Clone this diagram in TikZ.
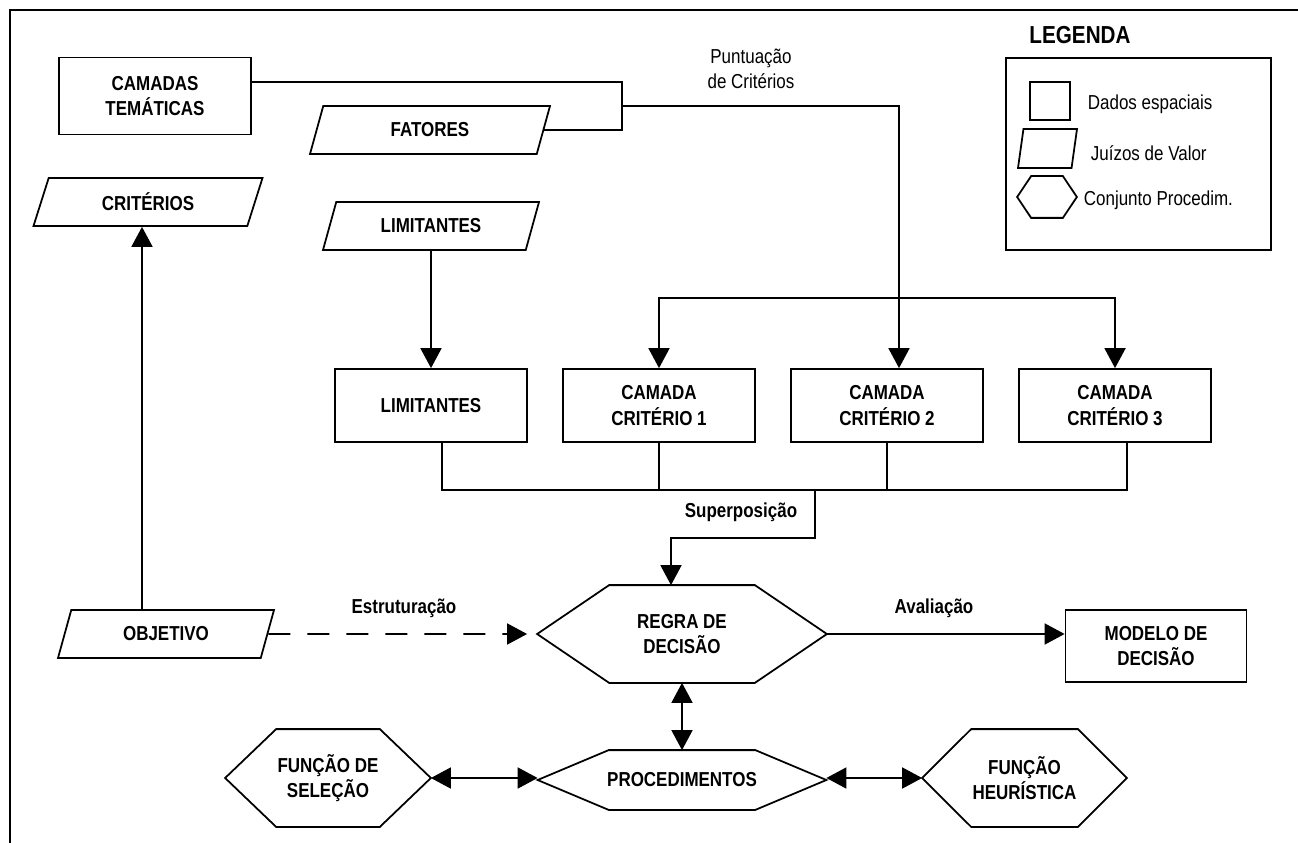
\documentclass[tikz,border=0pt]{standalone}
\usepackage{fontspec}
\setmainfont{Liberation Sans}[FakeStretch=0.84]
\usetikzlibrary{shapes, arrows.meta}
\tikzstyle{block} =
        [
                rectangle,
                draw,
                minimum width = 3.84cm,
                minimum height = 1.46cm,
                align = center,
                font = \fontsize{11.5}{14.5}\selectfont\bfseries
        ]
\tikzstyle{juizo} =
        [
                trapezium,
                draw,
                trapezium left angle = 63,
                trapezium right angle = 117,
                trapezium stretches body = true,
                minimum width = 4.32cm,
                minimum height = 0.96cm,
                font = \fontsize{11.5}{14.5}\selectfont\bfseries
        ]
\tikzstyle{procedim} =
        [
                rectangle,
                minimum height = 1.92cm,
                align = center,
                font = \fontsize{11.5}{14.5}\selectfont\bfseries
        ]
\tikzstyle{rotulo} =
        [
                inner sep = 0pt,
                font = \fontsize{11.5}{14.5}\selectfont\bfseries
        ]
\tikzstyle{nota} =
        [
                inner sep = 0pt,
                align = center,
                font = \fontsize{11.5}{14}\selectfont
        ]
\tikzstyle{line} =
        [
                draw,
                -{Triangle[length = 4mm, width = 4.2mm]}
        ]
\tikzstyle{dline} =
        [
                draw,
                {Triangle[length = 4mm, width = 4.2mm]}-{Triangle[length = 4mm, width = 4.2mm]}
        ]

\begin{document}
\begin{tikzpicture}[x = 0.2mm, y = -0.2mm, line width = 1pt]
        \useasboundingbox (0,0) rectangle (1298,843);
        \draw [line width = 1.2pt] (10,843) -- (10,10) -- (1298,10);

        \node [block, minimum height = 1.54cm] (tematicas) at (155,96) {CAMADAS\\TEMÁTICAS};
        \node [juizo, minimum width = 4.8cm] (fatores) at (430,130) {FATORES};
        \node [juizo, minimum width = 4.58cm] (criterios) at (148,202) {CRITÉRIOS};
        \node [juizo] (limitpar) at (431,226) {LIMITANTES};
        \node [nota] (puntuacao) at (751,69) {Puntuação\\de Critérios};
        \coordinate (junta) at (622,106);
        \coordinate (reparte) at (899,298);

        \node [block, below of = limitpar, node distance = 3.59cm] (limitantes) {LIMITANTES};
        \node [block, right of = limitantes, node distance = 4.56cm] (cc1) {CAMADA\\CRITÉRIO 1};
        \node [block, right of = cc1, node distance = 4.56cm] (cc2) {CAMADA\\CRITÉRIO 2};
        \node [block, right of = cc2, node distance = 4.56cm] (cc3) {CAMADA\\CRITÉRIO 3};
        \coordinate (soma) at (815,490);
        \node [rotulo] (superposicao) at (741,512) {Superposição};

        \node [juizo] (objetivo) at (166,634) {OBJETIVO};
        \node [procedim, minimum width = 5.76cm] (regra) at (682,634) {REGRA DE\\DECISÃO};
        \node [block, minimum width = 3.62cm, minimum height = 1.44cm] (modelo) at (1156,646) {MODELO DE\\DECISÃO};
        \node [rotulo] (estruturacao) at (404,608) {Estruturação};
        \node [rotulo] (avaliacao) at (934,608) {Avaliação};

        \node [procedim, below of = regra, node distance = 2.92cm, minimum width = 5.74cm, minimum height = 1.16cm] (proc) {PROCEDIMENTOS};
        \node [procedim, minimum width = 4.08cm] (selecao) at (328,778) {FUNÇÃO DE\\SELEÇÃO};
        \node [procedim, minimum width = 4.06cm] (heuristica) at (1024.5,778) {FUNÇÃO\\HEURÍSTICA};

        \node [font = \fontsize{14}{16}\selectfont\bfseries] (legenda) at (1080,35) {LEGENDA};
        \node [draw, minimum width = 5.3cm, minimum height = 3.84cm] (quadro) at (1138.5,154) {};
        \node [block, minimum width = 0.8cm, minimum height = 0.76cm] (lbloco) at (1050,101) {};
        \node [juizo, trapezium left angle = 65, trapezium right angle = 115, minimum width = 1.18cm, minimum height = 0.78cm] (ljuizo) at (1047.5,148.5) {};
        \node [procedim, minimum width = 1.16cm, minimum height = 0.8cm] (hexleg) at (1047,197) {};
        \node [nota, anchor = west] (ldados) at (1087,104) {Dados espaciais};
        \node [nota, anchor = west] (ljuizos) at (1090,153) {Juízos de Valor};
        \node [nota, anchor = west] (lconj) at (1083,200) {Conjunto Procedim.};

        \foreach \n/\d in {regra/1.44cm, proc/1.42cm, selecao/1.02cm, heuristica/0.98cm, hexleg/0.28cm}
                \draw (\n.west) -- ([xshift = \d]\n.north west) -- ([xshift = -\d]\n.north east) -- (\n.east)
                        -- ([xshift = -\d]\n.south east) -- ([xshift = \d]\n.south west) -- cycle;

        \draw (tematicas.east |- 0,82) -| (junta) |- (fatores.east);
        \path [line] (junta) -| ([xshift = 2.4mm]cc2.north);
        \path [line] (reparte) -| (cc1.north);
        \path [line] (reparte) -| (cc3.north);
        \path [line] (limitpar) -- (limitantes);
        \foreach \n/\d in {limitantes/2.2mm, cc1/0mm, cc2/0mm, cc3/2.4mm}
                \draw ([xshift = \d]\n.south) |- (soma);
        \path [line] (soma) -- ++(0,48) -| ([xshift = -2.2mm]regra.north);
        \path [line] (objetivo.north -| 142,0) -- (criterios.south -| 142,0);
        \path [line, dash pattern = on 4.4mm off 3.4mm, shorten >= 2mm] (objetivo.east) -- (regra.west);
        \path [line] (regra.east) -- (regra.east -| modelo.west);
        \path [dline] (regra.south) -- (proc.north);
        \path [dline] (selecao.east) -- (selecao.east -| proc.west);
        \path [dline] (proc.east |- heuristica.west) -- (heuristica.west);
\end{tikzpicture}
\end{document}
